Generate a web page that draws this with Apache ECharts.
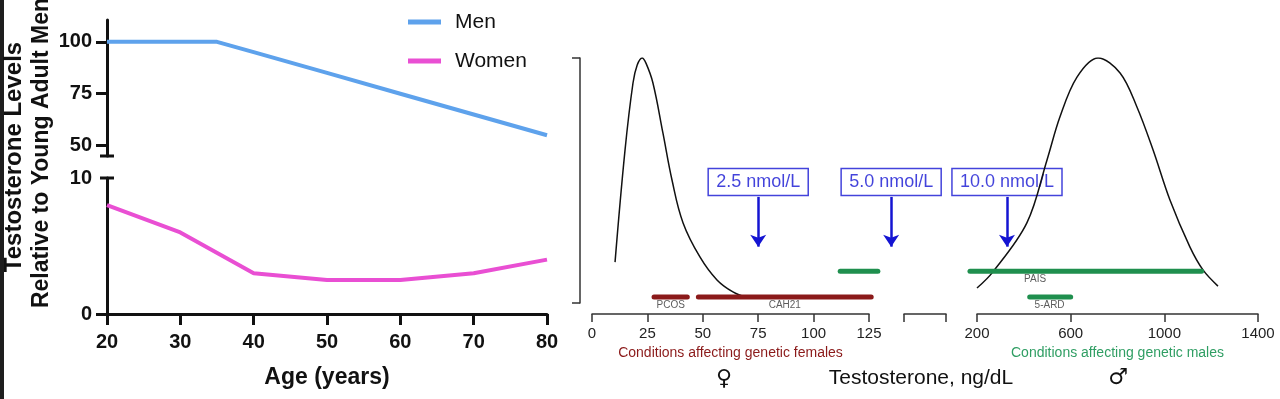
<!DOCTYPE html>
<html>
<head>
<meta charset="utf-8">
<title>Testosterone</title>
<script src="https://cdn.jsdelivr.net/npm/echarts@6/dist/echarts.min.js"></script>
<style>
  html, body { margin: 0; padding: 0; background: #fff; }
  #main { width: 1280px; height: 399px; }
</style>
</head>
<body>
<div id="main"></div>
<script type="text/javascript">
// left panel: levels relative to young adult men
var menAges = [20, 30, 35, 40, 50, 60, 70, 80];
var menLevels = [100, 100, 100, 95, 85, 75, 65, 55];
var womenAges = [20, 30, 40, 50, 60, 70, 80];
var womenLevels = [8, 6, 3, 2.5, 2.5, 3, 4];

// right panel: distributions, testosterone in ng/dL vs relative density
var femaleT = [10.4, 14.9, 18.5, 20.4, 22.6, 24.4, 27.5, 32, 36.1, 41.1, 48.7, 56.4, 63.6, 70.4];
var femaleDensity = [0.167, 0.624, 0.898, 0.971, 1.0, 0.978, 0.898, 0.694, 0.502, 0.327, 0.188, 0.094, 0.045, 0.02];
var maleT = [200, 268, 413, 499, 554, 627, 717, 811, 883, 952, 1024, 1109, 1165, 1229];
var maleDensity = [0.061, 0.127, 0.327, 0.584, 0.759, 0.922, 1.0, 0.939, 0.8, 0.624, 0.42, 0.229, 0.135, 0.069];

// condition ranges (ng/dL); 'low' = 0-125 scale, 'high' = 200-1400 scale
var condNames = ['PCOS', 'CAH21', 'PAIS', 'PAIS', '5-ARD'];
var condSex = ['F', 'F', 'M', 'M', 'M'];
var condFrom = [28, 48, 112, 170, 425];
var condTo = [43, 126, 129, 1159, 600];
var condLevel = [0.024, 0.024, 0.13, 0.13, 0.024];
var condScale = ['low', 'low', 'low', 'high', 'high'];
var condLabelAt = [35.5, 87, null, 448, 510];

// cut-offs
var cutLabels = ['2.5 nmol/L', '5.0 nmol/L', '10.0 nmol/L'];
var cutT = [75, 135, 328];
var cutScale = ['low', 'low', 'high'];

var FONT = '"Liberation Sans", Arial, sans-serif';
var INK = '#111';
var BLUE = '#1414d2';
var RED = '#8b1a1a';
var GREEN = '#1f8f4e';

// pixel geometry of the right panel axes
var LOW_LEFT = 592, LOW_W = 277, LOW_MAX = 125, LOW_DATA_MAX = 140;
var HIGH_LEFT = 977, HIGH_W = 281, HIGH_MIN = 200, HIGH_MAX = 1400, HIGH_DATA_MIN = 150;
var lowPx = LOW_W / LOW_MAX;
var highPx = HIGH_W / (HIGH_MAX - HIGH_MIN);
// data grids (5 = low, 6 = high) share the scale of the visible axes but reach a bit further
var gridOf = { low: 5, high: 6 };

function pairs(xs, ys) {
  return xs.map(function (x, i) { return [x, ys[i]]; });
}

var chart = echarts.init(document.getElementById('main'));

var series = [
  { name: 'Men', type: 'line', xAxisIndex: 0, yAxisIndex: 0, data: pairs(menAges, menLevels),
    showSymbol: false, lineStyle: { width: 4, color: '#5ea2ec' }, itemStyle: { color: '#5ea2ec' } },
  { name: 'Women', type: 'line', xAxisIndex: 1, yAxisIndex: 1, data: pairs(womenAges, womenLevels),
    showSymbol: false, lineStyle: { width: 4, color: '#e94fd3' }, itemStyle: { color: '#e94fd3' } },
  { type: 'line', xAxisIndex: 5, yAxisIndex: 5, data: pairs(femaleT, femaleDensity), smooth: 0.4,
    showSymbol: false, silent: true, lineStyle: { width: 1.5, color: INK } },
  { type: 'line', xAxisIndex: 6, yAxisIndex: 6, data: pairs(maleT, maleDensity), smooth: 0.35,
    showSymbol: false, silent: true, lineStyle: { width: 1.5, color: INK } }
];

condNames.forEach(function (n, i) {
  var g = gridOf[condScale[i]];
  var col = condSex[i] === 'F' ? RED : GREEN;
  series.push({
    type: 'line', xAxisIndex: g, yAxisIndex: g, silent: true, showSymbol: false,
    data: [[condFrom[i], condLevel[i]], [condTo[i], condLevel[i]]],
    lineStyle: { width: 5, color: col, cap: 'round' }
  });
  if (condLabelAt[i] != null) {
    series.push({
      type: 'scatter', xAxisIndex: g, yAxisIndex: g, silent: true, symbolSize: 0,
      data: [{ name: n, value: [condLabelAt[i], condLevel[i]] }],
      label: { show: true, position: 'bottom', distance: 3, formatter: '{b}', fontSize: 10,
        color: '#333', fontFamily: FONT }
    });
  }
});

cutLabels.forEach(function (t, i) {
  var g = gridOf[cutScale[i]];
  series.push({
    type: 'scatter', xAxisIndex: g, yAxisIndex: g, silent: true, symbolSize: 0,
    data: [{ name: t, value: [cutT[i], 0.494] }],
    label: { show: true, position: 'inside', formatter: '{b}', fontSize: 18, color: BLUE,
      fontFamily: FONT, borderColor: BLUE, borderWidth: 1.5, padding: [5, 8, 4, 8] },
    markLine: {
      silent: true, symbol: ['none', 'arrow'], symbolSize: 12, label: { show: false },
      lineStyle: { color: BLUE, width: 2.5, type: 'solid' },
      data: [[{ coord: [cutT[i], 0.433] }, { coord: [cutT[i], 0.23] }]]
    }
  });
});

var thinLine = { onZero: false, lineStyle: { color: '#333', width: 1.5 } };
var thinTick = { length: 8, lineStyle: { color: '#333', width: 1.5 } };
var plainNum = function (v) { return String(v); };
var noBounds = { outerBoundsMode: 'none' };
function grid(left, top, width, height) {
  return Object.assign({ left: left, top: top, width: width, height: height }, noBounds);
}

chart.setOption({
  animation: false,
  backgroundColor: '#fff',
  legend: {
    data: ['Men', 'Women'], orient: 'vertical', left: 403, top: 5, icon: 'rect',
    itemWidth: 33, itemHeight: 5, itemGap: 15,
    textStyle: { fontSize: 21, lineHeight: 24, color: INK, fontFamily: FONT, padding: [0, 0, 0, 9] }
  },
  grid: [
    grid(107, 20, 440, 136),
    grid(107, 178, 440, 136),
    grid(LOW_LEFT, 58, LOW_W, 245),
    grid(904, 58, 42, 245),
    grid(HIGH_LEFT, 58, HIGH_W, 245),
    grid(LOW_LEFT, 58, LOW_DATA_MAX * lowPx, 245),
    grid(HIGH_LEFT - (HIGH_MIN - HIGH_DATA_MIN) * highPx, 58, (HIGH_MAX - HIGH_DATA_MIN) * highPx, 245)
  ],
  xAxis: [
    { gridIndex: 0, type: 'value', min: 20, max: 80, show: false },
    { gridIndex: 1, type: 'value', min: 20, max: 80, interval: 10,
      name: 'Age (years)', nameLocation: 'middle', nameGap: 52,
      nameTextStyle: { fontSize: 23, fontWeight: 'bold', color: INK, fontFamily: FONT },
      axisLine: { onZero: false, lineStyle: { color: INK, width: 3 } },
      axisTick: { length: 11, lineStyle: { color: INK, width: 3 } },
      axisLabel: { fontSize: 20, fontWeight: 'bold', color: INK, margin: 18, fontFamily: FONT },
      splitLine: { show: false } },
    { gridIndex: 2, type: 'value', min: 0, max: LOW_MAX, interval: 25, offset: 11,
      name: 'Conditions affecting genetic females', nameLocation: 'middle', nameGap: 29,
      nameTextStyle: { fontSize: 14, color: RED, fontFamily: FONT },
      axisLine: thinLine, axisTick: thinTick,
      axisLabel: { fontSize: 15, color: '#222', margin: 12, fontFamily: FONT, formatter: plainNum },
      splitLine: { show: false } },
    { gridIndex: 3, type: 'value', min: 0, max: 1, interval: 1, offset: 11,
      axisLine: thinLine, axisTick: thinTick,
      axisLabel: { show: false }, splitLine: { show: false } },
    { gridIndex: 4, type: 'value', min: HIGH_MIN, max: HIGH_MAX, interval: 400, offset: 11,
      name: 'Conditions affecting genetic males', nameLocation: 'middle', nameGap: 29,
      nameTextStyle: { fontSize: 14, color: '#2f9e63', fontFamily: FONT },
      axisLine: thinLine, axisTick: thinTick,
      axisLabel: { fontSize: 15, color: '#222', margin: 12, fontFamily: FONT, formatter: plainNum },
      splitLine: { show: false } },
    { gridIndex: 5, type: 'value', min: 0, max: LOW_DATA_MAX, show: false },
    { gridIndex: 6, type: 'value', min: HIGH_DATA_MIN, max: HIGH_MAX, show: false }
  ],
  yAxis: [
    { gridIndex: 0, type: 'value', min: 45, max: 110.5,
      axisLine: { show: true, onZero: false, lineStyle: { color: INK, width: 3 } },
      axisTick: { show: true, length: 11, customValues: [50, 75, 100], lineStyle: { color: INK, width: 3 } },
      axisLabel: { customValues: [50, 75, 100], fontSize: 20, fontWeight: 'bold', color: INK, margin: 15, fontFamily: FONT },
      splitLine: { show: false } },
    { gridIndex: 1, type: 'value', min: 0, max: 10, interval: 10,
      axisLine: { show: true, onZero: false, lineStyle: { color: INK, width: 3 } },
      axisTick: { show: true, length: 11, customValues: [0], lineStyle: { color: INK, width: 3 } },
      axisLabel: { fontSize: 20, fontWeight: 'bold', color: INK, margin: 15, fontFamily: FONT },
      splitLine: { show: false } },
    { gridIndex: 2, type: 'value', min: 0, max: 1, interval: 1, offset: 12,
      axisLine: { show: true, onZero: false, lineStyle: { color: '#333', width: 1.5 } },
      axisTick: { show: true, length: 8, lineStyle: { color: '#333', width: 1.5 } },
      axisLabel: { show: false }, splitLine: { show: false } },
    { gridIndex: 3, type: 'value', min: 0, max: 1, show: false },
    { gridIndex: 4, type: 'value', min: 0, max: 1, show: false },
    { gridIndex: 5, type: 'value', min: 0, max: 1, show: false },
    { gridIndex: 6, type: 'value', min: 0, max: 1, show: false }
  ],
  series: series
});

// axis-break caps and free text
var capTop = chart.convertToPixel({ gridIndex: 0 }, [20, 45]);
var capLow = chart.convertToPixel({ gridIndex: 1 }, [20, 10]);

function cap(p) {
  return { type: 'line', shape: { x1: p[0] - 7, y1: p[1], x2: p[0] + 7, y2: p[1] },
    style: { stroke: INK, lineWidth: 3 }, silent: true };
}
function label(txt, x, y, font, fill, rot) {
  return { type: 'text', x: x, y: y, rotation: rot || 0, silent: true,
    style: { text: txt, font: font, fill: fill, align: 'center', verticalAlign: 'middle',
      textAlign: 'center', textVerticalAlign: 'middle' } };
}

chart.setOption({
  graphic: [
    { type: 'rect', shape: { x: 0, y: 0, width: 4, height: 399 }, style: { fill: '#1e1e1e' }, silent: true },
    cap(capTop),
    cap(capLow),
    label('Testosterone Levels', 14, 157, 'bold 24px "Liberation Sans"', INK, Math.PI / 2),
    label('Relative to Young Adult Men', 42, 153, 'bold 23px "Liberation Sans"', INK, Math.PI / 2),
    label('\u2640', 724, 379, '22px "DejaVu Sans"', INK),
    label('Testosterone, ng/dL', 921, 378, '21px "Liberation Sans"', INK),
    label('\u2642', 1118, 378, '22px "DejaVu Sans"', INK)
  ]
});
</script>
</body>
</html>
